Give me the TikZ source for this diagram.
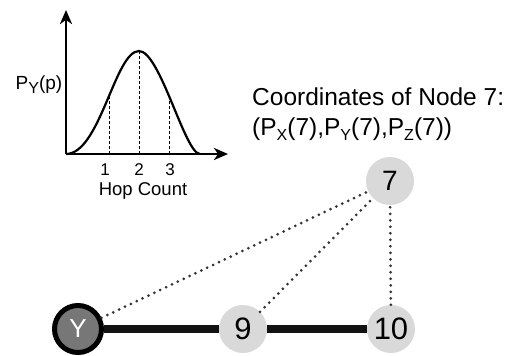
\documentclass[tikz,border=0pt]{standalone}
\usepackage{fontspec}
\setmainfont{Liberation Sans}
\usetikzlibrary{arrows.meta}
\definecolor{lgray}{HTML}{D9D9D9}
\definecolor{dgray}{HTML}{777777}
\definecolor{dotc}{HTML}{333333}
\newcommand{\fsz}[1]{\fontsize{#1}{#1}\selectfont}
\newcommand{\subl}[1]{\raisebox{-0.22em}{\fontsize{16}{16}\selectfont #1}}
\begin{document}
\begin{tikzpicture}[x=1pt,y=-1pt,
  gnode/.style={circle, fill=lgray, minimum size=48pt, inner sep=0pt},
  ynode/.style={circle, fill=dgray, draw=black, line width=5pt, minimum size=47pt, inner sep=0pt, text=white},
  heavyedge/.style={line width=8pt, black!93},
  dotedge/.style={dotc, line width=3pt, line cap=round, dash pattern=on 0pt off 6.5pt},
  axisline/.style={line width=2.5pt, -{Stealth[length=14pt,width=12pt,inset=4pt]}},
  guide/.style={line width=1pt, dash pattern=on 3pt off 2pt},
  lbl/.style={inner sep=0pt, anchor=base}
]
\useasboundingbox (0,0) rectangle (512,356);
% axes
\coordinate (O) at (66,154);
\coordinate (ytip) at (66,10);
\coordinate (xtip) at (228,154);
\draw[axisline] (O) -- (ytip);
\draw[axisline] (O) -- (xtip);
% curve
\draw[line width=2.2pt] (O) .. controls (100,154) and (115,51) .. (139,51) .. controls (160,51) and (185,154) .. (200,154);
\draw[guide] (109,154) -- (109,96);
\draw[guide] (139,154) -- (139,51);
\draw[guide] (169,154) -- (169,96);
% labels
\node[lbl, font=\fsz{19}] (py) at (39,89) {P\subl{Y}(p)};
\node[lbl, font=\fsz{17}] (t1) at (105,175) {1};
\node[lbl, font=\fsz{17}] (t2) at (139,175) {2};
\node[lbl, font=\fsz{17}] (t3) at (170,175) {3};
\node[lbl, font=\fsz{18.5}] (hc) at (143,195) {Hop Count};
\node[inner sep=0pt, anchor=base west, font=\fsz{24.5}] (c1) at (252,105) {Coordinates of Node 7:};
\node[inner sep=0pt, anchor=base west, font=\fsz{24.5}] (c2) at (252,135) {(P\subl{X}(7),P\subl{Y}(7),P\subl{Z}(7))};
% graph
\node[gnode, font=\fsz{28}] (n7) at (390,181) {7};
\node[gnode, font=\fsz{31}] (n9) at (243,329) {9};
\node[gnode, font=\fsz{31}] (n10) at (391,329) {10};
\node[ynode, font=\fsz{26}] (Y) at (78,329) {Y};
\draw[heavyedge] (Y) -- (n9);
\draw[heavyedge] (n9) -- (n10);
\draw[dotedge] (Y) -- (n7);
\draw[dotedge] (n9) -- (n7);
\draw[dotedge] (n10) -- (n7);
\end{tikzpicture}
\end{document}
